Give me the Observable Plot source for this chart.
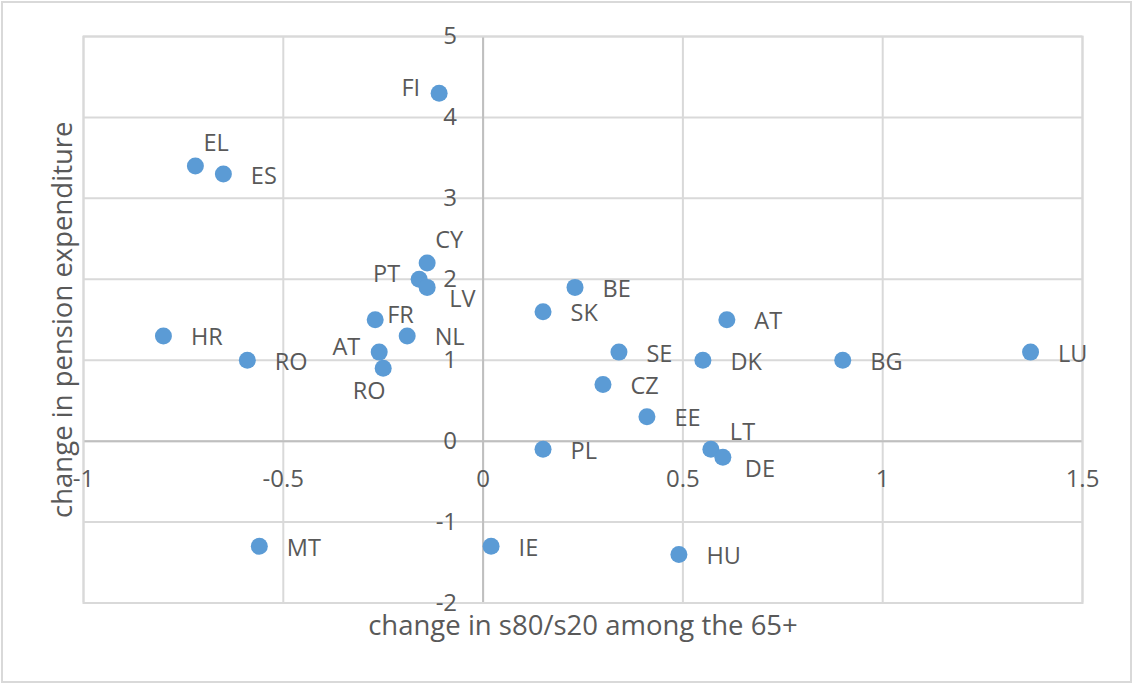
<!DOCTYPE html>
<html>
<head>
<meta charset="utf-8">
<script src="https://cdn.jsdelivr.net/npm/d3@7"></script>
<script src="https://cdn.jsdelivr.net/npm/@observablehq/plot@0.6"></script>
<style>
  body { margin: 0; background: #ffffff; }
  #chart svg { display: block; outline: 2px solid #d9d9d9; outline-offset: -3px; }
</style>
</head>
<body>
<div id="chart"></div>
<script>
// ---- data ----
const countries     = ["FI", "EL", "ES", "CY", "PT", "LV", "FR", "NL", "AT", "RO", "HR", "RO", "MT", "IE", "HU", "PL", "SK", "BE", "SE", "CZ", "EE", "AT", "DK", "BG", "LU", "LT", "DE"];
const s80s20Change  = [-0.11, -0.72, -0.65, -0.14, -0.16, -0.14, -0.27, -0.19, -0.26, -0.25, -0.80, -0.59, -0.56, 0.02, 0.49, 0.15, 0.15, 0.23, 0.34, 0.30, 0.41, 0.61, 0.55, 0.90, 1.37, 0.57, 0.60];
const pensionChange = [4.3, 3.4, 3.3, 2.2, 2.0, 1.9, 1.5, 1.3, 1.1, 0.9, 1.3, 1.0, -1.3, -1.3, -1.4, -0.1, 1.6, 1.9, 1.1, 0.7, 0.3, 1.5, 1.0, 1.0, 1.1, -0.1, -0.2];
const xTicks = [-1, -0.5, 0, 0.5, 1, 1.5];
const yTicks = [-2, -1, 0, 1, 2, 3, 4, 5];
const xTitle = "change in s80/s20 among the 65+";
const yTitle = "change in pension expenditure";

// label placement (style), one per country
const labelSide = ["left", "above", "right", "above", "left", "lowerRight", "nearRight", "right", "left", "below", "right", "right", "right", "right", "right", "right", "right", "right", "right", "right", "right", "right", "right", "right", "right", "upperRight", "lowerRight"];

const sideStyle = {
  right:      {dx: 27.5, dy: 2,   textAnchor: "start"},
  nearRight:  {dx: 12,   dy: -4,  textAnchor: "start"},
  left:       {dx: -19,  dy: -5,  textAnchor: "end"},
  above:      {dx: 8,    dy: -23, textAnchor: "start"},
  upperRight: {dx: 19,   dy: -17, textAnchor: "start"},
  lowerRight: {dx: 22,   dy: 12,  textAnchor: "start"},
  below:      {dx: -14,  dy: 23,  textAnchor: "middle"}
};

const data = countries.map((c, i) => ({c, x: s80s20Change[i], y: pensionChange[i], side: labelSide[i]}));

const textColor = "#595959";
const font = "'Open Sans', 'Noto Sans', sans-serif";

const labelMarks = Object.entries(sideStyle).map(([side, st]) =>
  Plot.text(data.filter(d => d.side === side), {
    x: "x", y: "y", text: "c", fill: textColor, fontSize: 23.5, ...st
  })
);

const chart = Plot.plot({
  width: 1133,
  height: 684,
  marginLeft: 83,
  marginRight: 51,
  marginTop: 36,
  marginBottom: 81.5,
  x: {domain: [-1, 1.5], axis: null},
  y: {domain: [-2, 5], axis: null},
  style: {fontFamily: font, background: "#ffffff", overflow: "visible"},
  marks: [
    Plot.ruleX(xTicks, {x: d => d, stroke: "#d9d9d9", strokeWidth: 2}),
    Plot.ruleY(yTicks, {y: d => d, stroke: "#d9d9d9", strokeWidth: 2}),
    Plot.ruleX([0], {x: d => d, stroke: "#bfbfbf", strokeWidth: 2}),
    Plot.ruleY([0], {y: d => d, stroke: "#bfbfbf", strokeWidth: 2}),
    Plot.frame({stroke: "#d9d9d9", strokeWidth: 2}),
    // x tick labels, next to the y = 0 axis line
    Plot.text(xTicks, {x: d => d, y: () => 0, dy: 38, text: d => String(d), fill: textColor, fontSize: 24}),
    // y tick labels, next to the x = 0 axis line
    Plot.text(yTicks, {x: () => 0, y: d => d, dx: -26, text: d => String(d), textAnchor: "end", fill: textColor, fontSize: 24}),
    // axis titles
    Plot.text([xTitle], {frameAnchor: "bottom", dy: 32, fill: textColor, fontSize: 27.5}),
    Plot.text([yTitle], {frameAnchor: "left", dx: -20, rotate: -90, textAnchor: "middle", fill: textColor, fontSize: 27.5}),
    // points
    Plot.dot(data, {x: "x", y: "y", r: 8.5, fill: "#5b9bd5", stroke: "none"}),
    ...labelMarks
  ]
});

document.getElementById("chart").appendChild(chart);
</script>
</body>
</html>
